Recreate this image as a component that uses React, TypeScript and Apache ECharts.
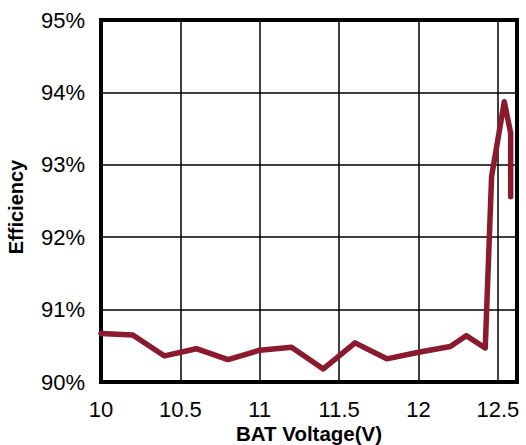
import React, { useEffect, useRef } from "react";
import * as echarts from "echarts";

const voltage = [10, 10.2, 10.4, 10.6, 10.8, 11.0, 11.2, 11.4, 11.6, 11.8, 12.0, 12.2, 12.3, 12.42, 12.46, 12.54, 12.58, 12.58];
const efficiency = [90.67, 90.65, 90.36, 90.46, 90.31, 90.44, 90.48, 90.18, 90.54, 90.32, 90.41, 90.49, 90.64, 90.47, 92.84, 93.87, 93.44, 92.56];
const xTicks = [10, 10.5, 11, 11.5, 12, 12.5];
const yTicks = [90, 91, 92, 93, 94, 95];

export default function App() {
  const ref = useRef<HTMLDivElement>(null);
  useEffect(() => {
    if (!ref.current) return;
    const chart = echarts.init(ref.current, null, { renderer: "svg" });
    const font = "'Liberation Sans', Arial, sans-serif";
    chart.setOption({
      animation: false,
      grid: { left: 101, top: 20, right: 9, bottom: 63, show: true, borderColor: "#000", borderWidth: 4, containLabel: false, outerBoundsMode: "none" },
      xAxis: {
        type: "value",
        min: xTicks[0],
        max: 12.62,
        interval: 0.5,
        name: "BAT Voltage(V)",
        nameLocation: "middle",
        nameGap: 42,
        nameMoveOverlap: false,
        nameTextStyle: { fontFamily: font, fontSize: 20.5, lineHeight: 19, fontWeight: "bold", color: "#000" },
        axisLine: { show: false },
        axisTick: { show: false },
        axisLabel: { showMaxLabel: false, fontFamily: font, fontSize: 22, lineHeight: 19, color: "#000", margin: 18, formatter: (v: number) => (xTicks.includes(v) ? String(v) : "") },
        splitLine: { show: true, lineStyle: { color: "#000", width: 1.5 } },
      },
      yAxis: {
        type: "value",
        min: yTicks[0],
        max: yTicks[yTicks.length - 1],
        interval: 1,
        name: "Efficiency",
        nameLocation: "middle",
        nameGap: 75,
        nameMoveOverlap: false,
        nameTextStyle: { fontFamily: font, fontSize: 20, fontWeight: "bold", color: "#000", padding: [0, 12, 0, 0] },
        axisLine: { show: false },
        axisTick: { show: false },
        axisLabel: { fontFamily: font, fontSize: 22, color: "#000", margin: 16, formatter: "{value}%" },
        splitLine: { show: true, lineStyle: { color: "#000", width: 1.5 } },
      },
      series: [
        {
          type: "line",
          data: voltage.map((v, i) => [v, efficiency[i]]),
          showSymbol: false,
          symbol: "none",
          lineStyle: { color: "#8B1A2E", width: 5.5, cap: "round", join: "round" },
          z: 3,
        },
      ],
    });
    return () => chart.dispose();
  }, []);
  return <div ref={ref} style={{ width: 526, height: 445, position: "absolute", left: 0, top: 0 }} />;
}
